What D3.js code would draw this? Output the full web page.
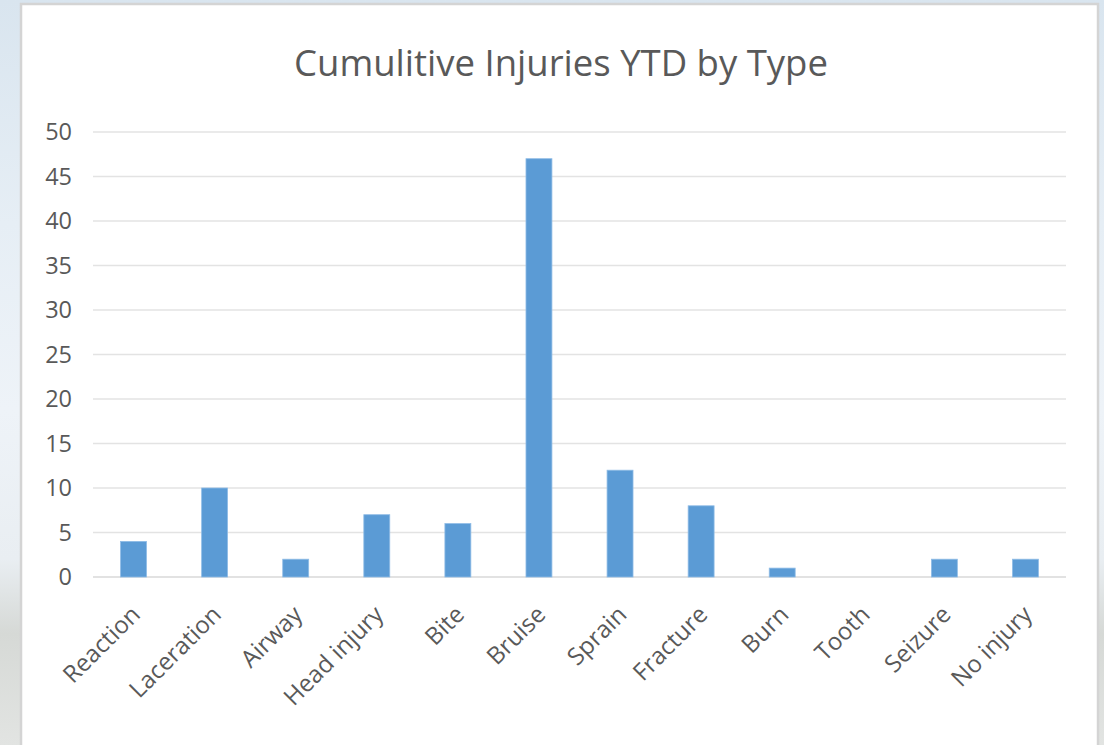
<!DOCTYPE html>
<html><head><meta charset="utf-8">
<script src="https://cdn.jsdelivr.net/npm/d3@7"></script>
<style>
html,body{margin:0;padding:0;width:1104px;height:745px;overflow:hidden;}
body{background:linear-gradient(180deg,#d9e5ef 0%,#e6eef5 30%,#eef3f8 55%,#e9eef2 75%,#d6d9d6 85%,#e2e4e2 100%);}
svg{display:block;}
</style></head><body>
<svg id="chart" width="1104" height="745"></svg>
<script>
const categories = ["Reaction","Laceration","Airway","Head injury","Bite","Bruise","Sprain","Fracture","Burn","Tooth","Seizure","No injury"];
const values = [4,10,2,7,6,47,12,8,1,0,2,2];
const yTicks = [0,5,10,15,20,25,30,35,40,45,50];
const title = "Cumulitive Injuries YTD by Type";

const svg = d3.select("#chart");
const font = "'Open Sans', 'Noto Sans', sans-serif";
// panel
svg.append("rect").attr("x",21).attr("y",4).attr("width",1077).attr("height",760)
  .attr("fill","#ffffff").attr("stroke","#d4d4d4").attr("stroke-width",2.5);

const m = {left:93, right:1066, top:132, bottom:577};
const x = d3.scaleBand().domain(categories).range([m.left,m.right]).paddingInner(0.68).paddingOuter(0.34);
const y = d3.scaleLinear().domain([0,50]).range([m.bottom,m.top]);

// gridlines
svg.append("g").selectAll("line").data(yTicks).join("line")
  .attr("x1",m.left).attr("x2",m.right)
  .attr("y1",d=>y(d)).attr("y2",d=>y(d))
  .attr("stroke",d=>d===0?"#d9d9d9":"#e3e3e3").attr("stroke-width",1.6);

// y axis labels
const yAxis = d3.axisLeft(y).tickValues(yTicks).tickSize(0).tickPadding(0);
const ya = svg.append("g").attr("transform",`translate(${m.left-21},0)`).call(yAxis);
ya.select(".domain").remove();
ya.selectAll("text").attr("font-family",font).attr("font-size",23.5).attr("fill","#595959").attr("text-anchor","end");

// bars
svg.append("g").selectAll("rect").data(categories).join("rect")
  .attr("x",d=>x(d)).attr("width",x.bandwidth())
  .attr("y",(d,i)=>y(values[i])).attr("height",(d,i)=>y(0)-y(values[i]))
  .attr("fill","#5b9bd5").attr("stroke","#8fbce6").attr("stroke-width",0.8);

// x axis labels
const xAxis = d3.axisBottom(x).tickSize(0).tickPadding(0);
const xa = svg.append("g").attr("transform",`translate(0,${m.bottom})`).call(xAxis);
xa.select(".domain").remove();
xa.selectAll("text").attr("font-family",font).attr("font-size",24).attr("fill","#595959")
  .attr("text-anchor","end").attr("dy",0)
  .attr("transform","translate(8,39) rotate(-45)");

// title
svg.append("text").attr("x",561).attr("y",76).attr("text-anchor","middle")
  .attr("font-family",font).attr("font-size",36.5).attr("fill","#595959").text(title);
</script>
</body></html>
